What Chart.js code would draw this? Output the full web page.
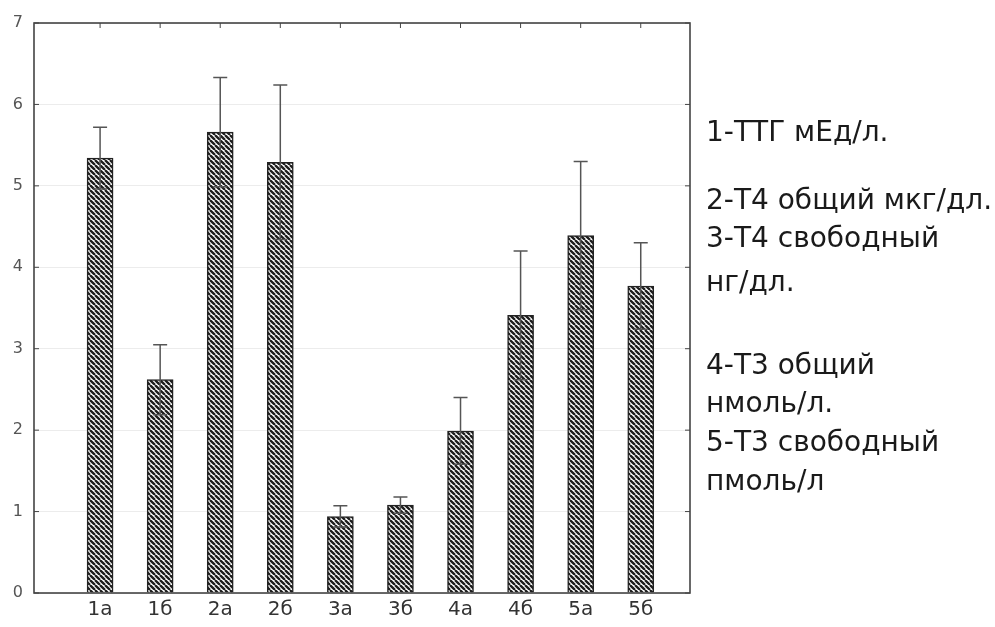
<!DOCTYPE html>
<html>
<head>
<meta charset="utf-8">
<script src="https://cdn.jsdelivr.net/npm/chart.js@4"></script>
<style>
  html, body { margin: 0; padding: 0; background: #fff; }
  #wrap { position: relative; width: 995px; height: 627px; }
  .note { position: absolute; left: 706px; font: 28px "DejaVu Sans", sans-serif; line-height: 1; color: #1a1a1a; white-space: nowrap; }
</style>
</head>
<body>
<div id="wrap">
  <canvas id="chartHormon" width="995" height="627"></canvas>
</div>
<script>
// данные диаграммы
var categories = ['1а', '1б', '2а', '2б', '3а', '3б', '4а', '4б', '5а', '5б'];
var means = [5.34, 2.62, 5.66, 5.29, 0.94, 1.08, 1.99, 3.41, 4.39, 3.77];
var errors = [0.38, 0.43, 0.67, 0.95, 0.13, 0.10, 0.41, 0.79, 0.91, 0.53];
var yTicks = [0, 1, 2, 3, 4, 5, 6, 7];
var noteLines = [
    '1-ТТГ мЕд/л.',
    '2-Т4 общий мкг/дл.',
    '3-Т4 свободный',
    'нг/дл.',
    '4-Т3 общий',
    'нмоль/л.',
    '5-Т3 свободный',
    'пмоль/л'
];
var noteBaselines = [142, 210, 248, 292, 375, 413, 452, 491];

// подписи справа
var wrap = document.getElementById('wrap');
noteLines.forEach(function (t, i) {
    var d = document.createElement('div');
    d.className = 'note';
    d.style.top = (noteBaselines[i] - 24) + 'px';
    d.textContent = t;
    wrap.appendChild(d);
});

// штриховка столбцов
function hatch() {
    var s = 5;
    var c = document.createElement('canvas');
    c.width = s; c.height = s;
    var g = c.getContext('2d');
    g.fillStyle = '#ffffff';
    g.fillRect(0, 0, s, s);
    g.strokeStyle = '#1e1e1e';
    g.lineWidth = 2.3;
    g.beginPath();
    for (var k = -s; k <= s; k += s) {
        g.moveTo(k, 0);
        g.lineTo(k + s, s);
    }
    g.stroke();
    return g.createPattern(c, 'repeat');
}

var ctx = document.getElementById('chartHormon').getContext('2d');

// рамка, засечки и планки погрешностей
var extras = {
    id: 'extras',
    afterDatasetsDraw: function (chart) {
        var c = chart.ctx, xs = chart.scales.x, ys = chart.scales.y;
        c.save();
        c.strokeStyle = '#555';
        c.lineWidth = 1.5;
        means.forEach(function (v, i) {
            var x = xs.getPixelForValue(i + 1);
            var hi = ys.getPixelForValue(v + errors[i]);
            var lo = ys.getPixelForValue(v - errors[i]);
            c.beginPath();
            c.moveTo(x, hi); c.lineTo(x, lo);
            c.moveTo(x - 7, hi); c.lineTo(x + 7, hi);
            c.moveTo(x - 7, lo); c.lineTo(x + 7, lo);
            c.stroke();
        });
        var a = chart.chartArea;
        c.strokeStyle = '#444';
        c.lineWidth = 1.6;
        c.strokeRect(a.left, a.top, a.right - a.left, a.bottom - a.top);
        c.lineWidth = 1;
        c.beginPath();
        yTicks.forEach(function (t) {
            var y = ys.getPixelForValue(t);
            c.moveTo(a.left, y); c.lineTo(a.left + 5, y);
            c.moveTo(a.right, y); c.lineTo(a.right - 5, y);
        });
        categories.forEach(function (n, i) {
            var x = xs.getPixelForValue(i + 1);
            c.moveTo(x, a.top); c.lineTo(x, a.top + 5);
        });
        c.stroke();
        c.restore();
    }
};

var chart = new Chart(ctx, {
    type: 'bar',
    data: {
        datasets: [{
            data: means.map(function (v, i) { return { x: i + 1, y: v }; }),
            backgroundColor: hatch(),
            borderColor: '#222',
            borderWidth: 1.5,
            barThickness: 26
        }]
    },
    options: {
        responsive: false,
        animation: false,
        layout: { padding: { left: 0, right: 305, top: 23, bottom: 0 } },
        plugins: { legend: { display: false }, tooltip: { enabled: false } },
        scales: {
            x: {
                type: 'linear',
                offset: false,
                min: -0.1,
                max: 10.82,
                afterBuildTicks: function (s) {
                    s.ticks = categories.map(function (n, i) { return { value: i + 1 }; });
                },
                afterFit: function (s) { s.height = 34; },
                grid: { display: false, drawTicks: false, offset: false },
                border: { display: false },
                ticks: {
                    padding: 5,
                    maxRotation: 0,
                    autoSkip: false,
                    color: '#333',
                    font: { family: 'DejaVu Sans', size: 20 },
                    callback: function (v) { return categories[v - 1]; }
                }
            },
            y: {
                min: 0,
                max: 7,
                afterBuildTicks: function (s) {
                    s.ticks = yTicks.map(function (t) { return { value: t }; });
                },
                afterFit: function (s) { s.width = 34; },
                grid: { color: '#ececec', lineWidth: 1, drawTicks: false },
                border: { display: false },
                ticks: {
                    padding: 11,
                    color: '#555',
                    font: { family: 'DejaVu Sans', size: 16 }
                }
            }
        }
    },
    plugins: [extras]
});
</script>
</body>
</html>
